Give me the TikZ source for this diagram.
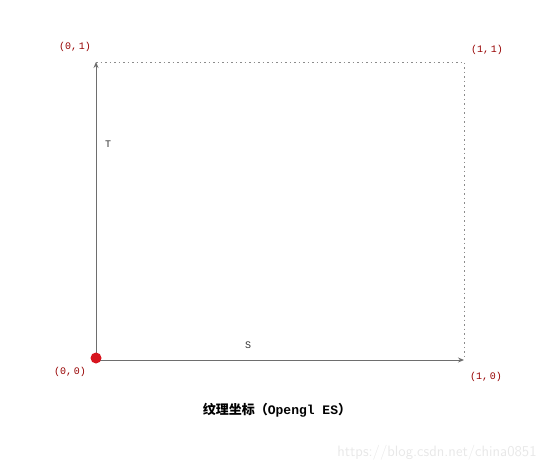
\documentclass[tikz,border=0pt]{standalone}
\usepackage{fontspec}
\usetikzlibrary{arrows.meta}
\setmonofont{Liberation Mono}
\newfontfamily\cjk{Noto Sans CJK SC}
\newfontfamily\codefont{Liberation Mono}
\definecolor{axisgray}{RGB}{110,110,110}
\definecolor{labelred}{RGB}{150,0,0}
\definecolor{dotred}{RGB}{215,20,30}
\tikzset{
  axis/.style={draw=axisgray, line width=0.9pt, -{Stealth[length=6pt,width=5pt]}},
  bound/.style={draw=axisgray!80, line width=0.8pt, dash pattern=on 1.5pt off 3pt},
  corner/.style={font=\codefont\fontsize{10}{12}\selectfont, text=labelred, inner sep=0pt},
  letter/.style={font=\codefont\fontsize{10}{12}\selectfont, text=black!80, inner sep=0pt}
}
\begin{document}
\begin{tikzpicture}[x=1pt,y=-1pt]
\useasboundingbox (0,0) rectangle (554,470);
\coordinate (o) at (96,360);
\coordinate (s) at (464,360);
\coordinate (t) at (96,62);
\coordinate (st) at (464,62);

\draw[bound] (t) -- (st) -- (s);
\draw[axis] (o) -- (s);
\draw[axis] (o) -- (t);
\fill[dotred] (96,358) circle(5.5);

\node[corner] (c00) at (70,372) {(0,\,0)};
\node[corner] (c10) at (486,377) {(1,\,0)};
\node[corner] (c01) at (75,47) {(0,\,1)};
\node[corner] (c11) at (487,50) {(1,\,1)};
\node[letter] (lt) at (108,144) {T};
\node[letter] (ls) at (248,345) {S};

\node (title) at (277,410) {\cjk\bfseries\fontsize{13}{15}\selectfont 纹理坐标（{\codefont Opengl ES}）};
\node[text=black!9, font=\sffamily\fontsize{15}{17}\selectfont] (mark) at (437,453) {https://blog.csdn.net/china0851};
\end{tikzpicture}
\end{document}
